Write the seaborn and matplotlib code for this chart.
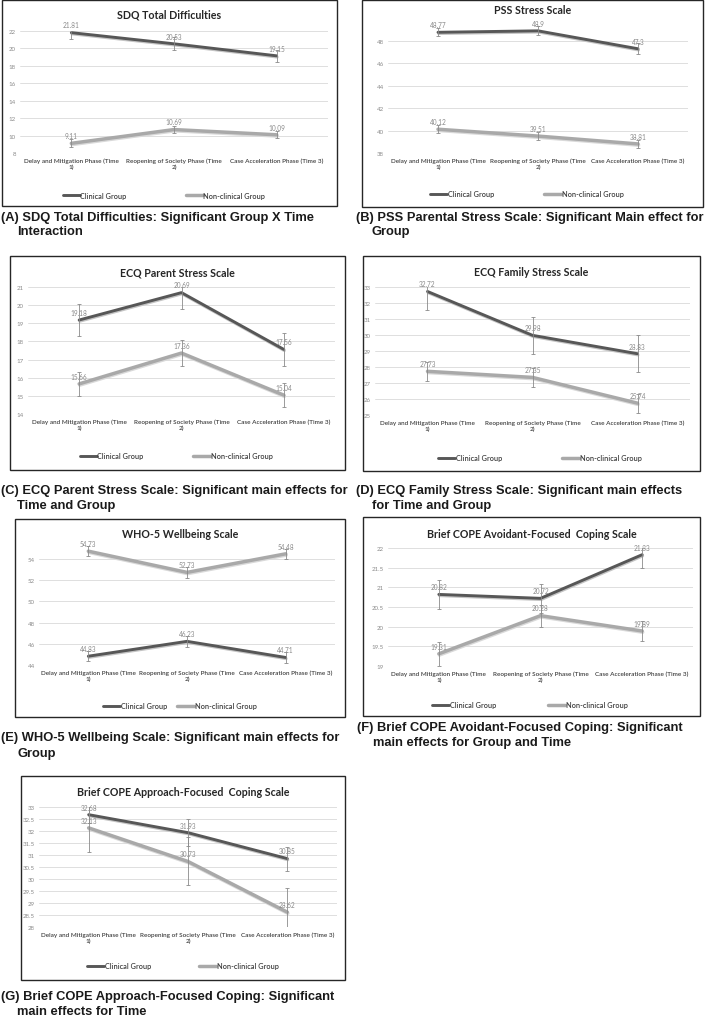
import matplotlib

matplotlib.use("Agg")
import matplotlib.patheffects as pe
import matplotlib.pyplot as plt
import numpy as np
import pandas as pd
import seaborn as sns
from matplotlib.patches import Rectangle

W, H = 709, 1020

# x categories and groups
PHASES = [
    "Delay and Mitigation Phase (Time\n1)",
    "Reopening of Society Phase (Time\n2)",
    "Case Acceleration Phase (Time 3)",
]
GROUPS = ["Clinical Group", "Non-clinical Group"]
PALETTE = {"Clinical Group": "#575757", "Non-clinical Group": "#a9a9a9"}

# (A) SDQ
SDQ_CLIN = [21.81, 20.53, 19.15]
SDQ_NON = [9.11, 10.69, 10.09]
SDQ_CLIN_ERR = [0.7, 0.75, 0.7]
SDQ_NON_ERR = [0.45, 0.45, 0.4]

# (B) PSS
PSS_CLIN = [48.77, 48.9, 47.3]
PSS_NON = [40.12, 39.51, 38.81]
PSS_CLIN_ERR = [0.35, 0.4, 0.5]
PSS_NON_ERR = [0.35, 0.35, 0.35]

# (C) ECQ parent
ECQP_CLIN = [19.18, 20.69, 17.56]
ECQP_NON = [15.66, 17.36, 15.04]
ECQP_CLIN_ERR = [0.9, 0.9, 0.9]
ECQP_NON_ERR = [0.65, 0.7, 0.65]

# (D) ECQ family
ECQF_CLIN = [32.72, 29.98, 28.83]
ECQF_NON = [27.73, 27.35, 25.74]
ECQF_CLIN_ERR = [1.15, 1.15, 1.15]
ECQF_NON_ERR = [0.6, 0.6, 0.6]

# (E) WHO-5
WHO_CLIN = [44.83, 46.23, 44.71]
WHO_NON = [54.73, 52.73, 54.48]
WHO_CLIN_ERR = [0.5, 0.5, 0.5]
WHO_NON_ERR = [0.5, 0.55, 0.5]

# (F) Brief COPE avoidant
AVO_CLIN = [20.82, 20.72, 21.83]
AVO_NON = [19.31, 20.28, 19.89]
AVO_CLIN_ERR = [0.37, 0.36, 0.35]
AVO_NON_ERR = [0.3, 0.28, 0.25]

# (G) Brief COPE approach
APP_CLIN = [32.68, 31.93, 30.85]
APP_NON = [32.13, 30.73, 28.62]
APP_CLIN_ERR = [0.35, 0.55, 0.5]
APP_NON_ERR = [1.0, 1.0, 1.0]

PANELS = [
    dict(title="SDQ Total Difficulties",
         caption=["(A) SDQ Total Difficulties: Significant Group X Time", "Interaction"],
         clin=SDQ_CLIN, non=SDQ_NON, clin_err=SDQ_CLIN_ERR, non_err=SDQ_NON_ERR,
         box=(2, 1, 337, 207), plot=(20, 32, 328, 154), ylim=(8, 22), ticks=(8, 22, 2),
         title_y=15, leg=(164, 196, 8.0), cap_y=(218, 232), cap_x=1),
    dict(title="PSS Stress Scale",
         caption=["(B) PSS Parental Stress Scale: Significant Main effect for", "Group"],
         clin=PSS_CLIN, non=PSS_NON, clin_err=PSS_CLIN_ERR, non_err=PSS_NON_ERR,
         box=(362, 1, 703, 208), plot=(388, 24, 688, 154), ylim=(38, 49.6), ticks=(38, 48, 2),
         title_y=11, leg=(527, 195, 6.8), cap_y=(218, 232), cap_x=356),
    dict(title="ECQ Parent Stress Scale",
         caption=["(C) ECQ Parent Stress Scale: Significant main effects for", "Time and Group"],
         clin=ECQP_CLIN, non=ECQP_NON, clin_err=ECQP_CLIN_ERR, non_err=ECQP_NON_ERR,
         box=(10, 257, 345, 471), plot=(28, 288, 335, 415), ylim=(14, 21), ticks=(14, 21, 1),
         title_y=273, leg=(176, 457, 6.7), cap_y=(491, 506), cap_x=1),
    dict(title="ECQ Family Stress Scale",
         caption=["(D) ECQ Family Stress Scale: Significant main effects", "for Time and Group"],
         clin=ECQF_CLIN, non=ECQF_NON, clin_err=ECQF_CLIN_ERR, non_err=ECQF_NON_ERR,
         box=(363, 257, 700, 472), plot=(375, 288, 690, 416), ylim=(25, 33), ticks=(25, 33, 1),
         title_y=273, leg=(540, 459, 8.2), cap_y=(491, 506), cap_x=356),
    dict(title="WHO-5 Wellbeing Scale",
         caption=["(E) WHO-5 Wellbeing Scale: Significant main effects for", "Group"],
         clin=WHO_CLIN, non=WHO_NON, clin_err=WHO_CLIN_ERR, non_err=WHO_NON_ERR,
         box=(15, 520, 345, 718), plot=(39, 544, 335, 666), ylim=(44, 55.5), ticks=(44, 54, 2),
         title_y=535, leg=(180, 707, 1.4), cap_y=(738, 754), cap_x=1),
    dict(title="Brief COPE Avoidant-Focused  Coping Scale",
         caption=["(F) Brief COPE Avoidant-Focused Coping: Significant", "main effects for Group and Time"],
         clin=AVO_CLIN, non=AVO_NON, clin_err=AVO_CLIN_ERR, non_err=AVO_NON_ERR,
         box=(363, 518, 700, 717), plot=(388, 549, 693, 667), ylim=(19, 22), ticks=(19, 22, 0.5),
         title_y=534, leg=(530, 706, 7.1), cap_y=(728, 743), cap_x=357),
    dict(title="Brief COPE Approach-Focused  Coping Scale",
         caption=["(G) Brief COPE Approach-Focused Coping: Significant", "main effects for Time"],
         clin=APP_CLIN, non=APP_NON, clin_err=APP_CLIN_ERR, non_err=APP_NON_ERR,
         box=(21, 777, 345, 981), plot=(39, 808, 337, 928), ylim=(28, 33), ticks=(28, 33, 0.5),
         title_y=793, leg=(183, 967, 6.5), cap_y=(997, 1012), cap_x=1),
]

SHADOW = {
    "Clinical Group": "#c4c4c4",
    "Non-clinical Group": "#d9d9d9",
}
LINE_W = {"Clinical Group": 2.1, "Non-clinical Group": 2.5}
CALIBRI_LIKE = ["Lato", "DejaVu Sans"]
ARIAL_LIKE = ["Liberation Sans", "DejaVu Sans"]


def px_rect(x0, y0, x1, y1):
    return [x0 / W, 1 - y1 / H, (x1 - x0) / W, (y1 - y0) / H]


def draw_panel(fig, p):
    # frame around the chart
    x0, y0, x1, y1 = p["box"]
    fig.patches.append(
        Rectangle((x0 / W, 1 - y1 / H), (x1 - x0) / W, (y1 - y0) / H,
                  transform=fig.transFigure, fill=False, ec="#262626", lw=1.0)
    )

    ax = fig.add_axes(px_rect(*p["plot"]))
    ax.patch.set_alpha(0)
    xs = list(range(len(PHASES)))
    df = pd.DataFrame({
        "phase": xs * 2,
        "score": p["clin"] + p["non"],
        "group": [GROUPS[0]] * 3 + [GROUPS[1]] * 3,
    })
    sns.lineplot(data=df, x="phase", y="score", hue="group", hue_order=GROUPS,
                 palette=PALETTE, errorbar=None, ax=ax, linewidth=2)

    for line, g in zip(ax.get_lines()[:2], GROUPS):
        line.set_linewidth(LINE_W[g])
        line.set_path_effects([
            pe.SimpleLineShadow(offset=(0.4, -0.9), shadow_color=SHADOW[g], alpha=1),
            pe.Normal(),
        ])

    # error bars and data labels
    for vals, errs in [(p["clin"], p["clin_err"]), (p["non"], p["non_err"])]:
        ax.errorbar(xs, vals, yerr=errs, fmt="none", ecolor="#8a8a8a",
                    elinewidth=0.6, capsize=1.5, capthick=0.6, zorder=5)
        for x, v in zip(xs, vals):
            ax.annotate(f"{v:g}", (x, v), xytext=(0, 3.0), textcoords="offset points",
                        ha="center", va="bottom", fontsize=4.7, color="#8a8a8a",
                        family=CALIBRI_LIKE, annotation_clip=False, zorder=6)

    lo, hi = p["ylim"]
    t0, t1, step = p["ticks"]
    ax.set_xlim(-0.5, len(PHASES) - 0.5)
    ax.set_ylim(lo, hi)
    ticks = np.arange(t0, t1 + step / 2, step)
    ax.set_yticks(ticks)
    ax.set_yticklabels([f"{t:g}" for t in ticks], fontsize=4.4, color="#8a8a8a",
                       family=CALIBRI_LIKE)
    ax.set_xticks(xs)
    ax.set_xticklabels(PHASES, fontsize=4.6, color="#404040", family=CALIBRI_LIKE,
                       weight="semibold", linespacing=1.2)
    ax.tick_params(length=0, axis="x", pad=3.2)
    ax.tick_params(length=0, axis="y", pad=3)
    ax.yaxis.grid(True, color="#d9d9d9", lw=0.6)
    ax.set_axisbelow(True)
    ax.set_xlabel("")
    ax.set_ylabel("")
    for s in ax.spines.values():
        s.set_visible(False)

    # legend under the plot
    old = ax.get_legend()
    handles = old.legend_handles
    labels = [t.get_text() for t in old.get_texts()]
    old.remove()
    for h, g in zip(handles, GROUPS):
        h.set_linewidth(LINE_W[g])
    lx, ly, colsp = p["leg"]
    ax.legend(handles, labels, loc="center", bbox_to_anchor=(lx / W, 1 - ly / H),
              bbox_transform=fig.transFigure, ncol=2, frameon=False,
              columnspacing=colsp, handlelength=2.3, handletextpad=0.1,
              prop={"family": CALIBRI_LIKE, "size": 5.3, "weight": "semibold"},
              labelcolor="#404040")

    # title
    fig.text((x0 + x1) / 2 / W, 1 - p["title_y"] / H, p["title"], ha="center", va="center",
             fontsize=7.7, weight="bold", color="#262626", family=CALIBRI_LIKE)

    # caption below the frame
    c1, c2 = p["cap_y"]
    fig.text(p["cap_x"] / W, 1 - c1 / H, p["caption"][0], ha="left", va="center",
             fontsize=9.25, weight="bold", color="#1a1a1a", family=ARIAL_LIKE)
    fig.text((p["cap_x"] + 16) / W, 1 - c2 / H, p["caption"][1], ha="left", va="center",
             fontsize=9.25, weight="bold", color="#1a1a1a", family=ARIAL_LIKE)


def main():
    sns.set_style("white")
    fig = plt.figure(figsize=(W / 100, H / 100), dpi=100)
    fig.patch.set_facecolor("white")
    for p in PANELS:
        draw_panel(fig, p)
    fig.savefig("out.png", dpi=100)
    plt.close(fig)


if __name__ == "__main__":
    main()
